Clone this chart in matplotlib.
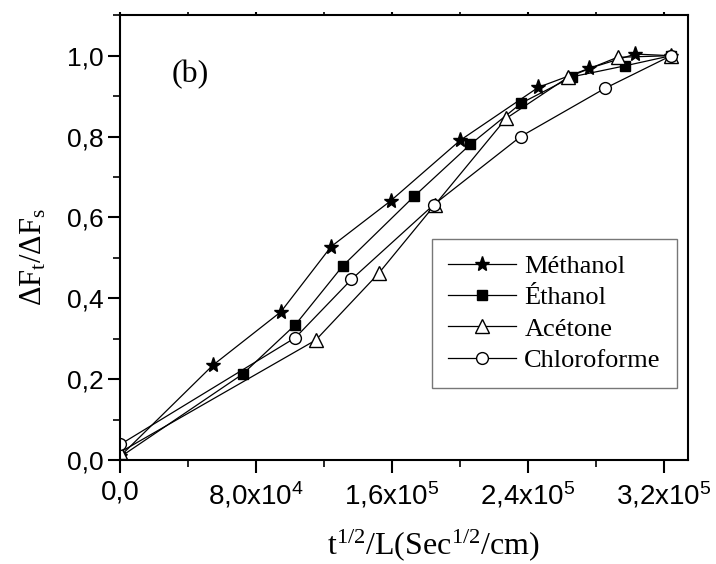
import numpy as np
import matplotlib
matplotlib.use("Agg")
import matplotlib.pyplot as plt
from matplotlib.ticker import MultipleLocator, FuncFormatter

plt.rcParams['mathtext.default'] = 'regular'

# data
met_x = [0, 5.45e4, 9.45e4, 1.24e5, 1.59e5, 2.0e5, 2.46e5, 2.76e5, 3.03e5, 3.24e5]
met_y = [0.01, 0.235, 0.367, 0.528, 0.641, 0.791, 0.922, 0.969, 1.004, 1.0]

eth_x = [0, 7.2e4, 1.03e5, 1.31e5, 1.73e5, 2.06e5, 2.36e5, 2.66e5, 2.97e5, 3.24e5]
eth_y = [0.008, 0.213, 0.335, 0.481, 0.653, 0.781, 0.883, 0.948, 0.975, 1.0]

ace_x = [0, 1.15e5, 1.52e5, 1.85e5, 2.27e5, 2.635e5, 2.925e5, 3.24e5]
ace_y = [0.02, 0.297, 0.462, 0.631, 0.845, 0.947, 0.996, 1.0]

chl_x = [0, 1.03e5, 1.36e5, 1.845e5, 2.355e5, 2.85e5, 3.24e5]
chl_y = [0.039, 0.303, 0.447, 0.632, 0.8, 0.919, 1.0]

x_ticks = [0, 8e4, 1.6e5, 2.4e5, 3.2e5]
x_labels = ['0,0', '8,0x10$^4$', '1,6x10$^5$', '2,4x10$^5$', '3,2x10$^5$']

fig = plt.figure(figsize=(7.16, 5.64), dpi=100)
ax = fig.add_axes([0.168, 0.184, 0.793, 0.789])

lw = 0.9
ax.plot(met_x, met_y, '-', color='black', lw=lw, marker='*', ms=11,
        mfc='black', mec='black', label='Méthanol')
ax.plot(eth_x, eth_y, '-', color='black', lw=lw, marker='s', ms=7,
        mfc='black', mec='black', label='Éthanol')
ax.plot(ace_x, ace_y, '-', color='black', lw=lw, marker='^', ms=10,
        mfc='white', mec='black', mew=1, label='Acétone')
ax.plot(chl_x, chl_y, '-', color='black', lw=lw, marker='o', ms=8.5,
        mfc='white', mec='black', mew=1, label='Chloroforme')

ax.set_xlim(0, 3.34e5)
ax.set_ylim(0, 1.1)

ax.set_xticks(x_ticks)
ax.set_xticklabels(x_labels)
ax.xaxis.set_minor_locator(MultipleLocator(4e4))
ax.yaxis.set_major_locator(MultipleLocator(0.2))
ax.yaxis.set_minor_locator(MultipleLocator(0.1))
ax.yaxis.set_major_formatter(FuncFormatter(lambda v, p: f'{v:.1f}'.replace('.', ',')))

for s in ax.spines.values():
    s.set_linewidth(1.5)

ax.tick_params(which='major', direction='out', length=9, width=1.5,
               labelsize=19, pad=3, right=False)
ax.tick_params(which='minor', direction='out', length=5, width=1.2, right=False)
ax.tick_params(axis='x', which='both', top=True, labeltop=False)
ax.tick_params(axis='x', which='major', labelsize=20, pad=5)
for t in ax.get_xticklabels() + ax.get_yticklabels():
    t.set_fontfamily('Liberation Sans')
# tiny ticks on the top spine
for tl in ax.xaxis.get_major_ticks() + ax.xaxis.get_minor_ticks():
    tl.tick2line.set_markersize(2)

ax.set_xlabel('t$^{1/2}$/L(Sec$^{1/2}$/cm)', fontsize=23,
              fontfamily='Liberation Serif')
ax.xaxis.set_label_coords(0.552, -0.15)
ax.set_ylabel(r'$\Delta$F$_t$/$\Delta$F$_s$', fontsize=22,
              fontfamily='Liberation Serif')
ax.yaxis.set_label_coords(-0.127, 0.458)

ax.text(0.09, 0.85, '(b)', transform=ax.transAxes, fontsize=23,
        fontfamily='Liberation Serif')

leg = ax.legend(loc='upper left', bbox_to_anchor=(0.549, 0.498), borderaxespad=0,
                fancybox=False, frameon=True, edgecolor='#555555',
                prop={'family': 'Liberation Serif', 'size': 19},
                handlelength=2.58, handletextpad=0.32, labelspacing=0.3,
                borderpad=0.6)
leg.get_frame().set_linewidth(1.0)

fig.savefig('out.png', dpi=100)
